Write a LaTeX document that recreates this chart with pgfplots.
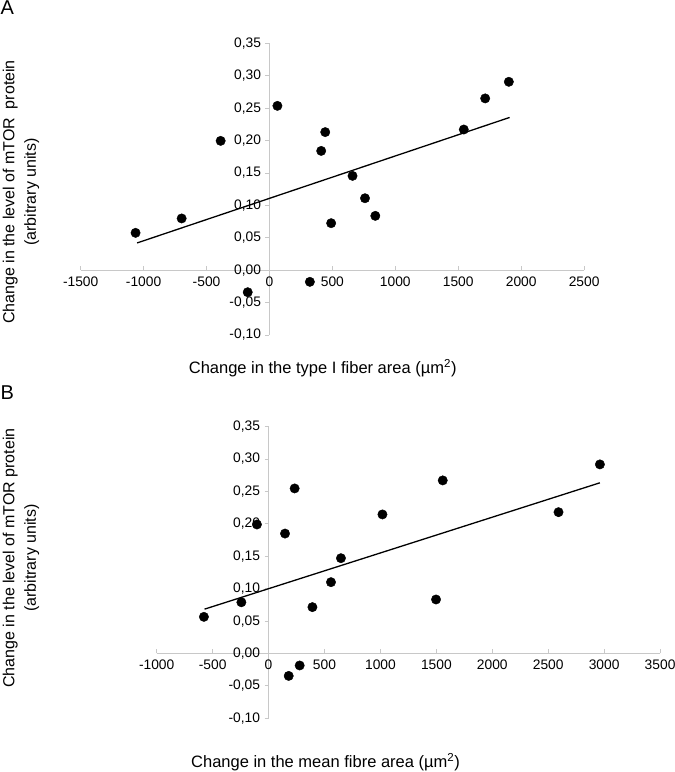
\documentclass[border=0pt]{standalone}
\usepackage{pgfplots}
\pgfplotsset{compat=1.18}
\usepackage{fontspec}
\setmainfont{Liberation Sans}
\definecolor{axgray}{RGB}{200,200,200}
\pgfplotstableread{
x y
-1064 0.0576
-698 0.0798
-388 0.1995
63 0.2535
443 0.213
411 0.184
490 0.0725
321 -0.018
-173 -0.034
660 0.1455
759 0.111
841 0.0838
1544 0.217
1714 0.265
1902 0.2906
}\dataA
\pgfplotstableread{
x y
-578 0.0565
-243 0.079
-104 0.199
233 0.2546
147 0.185
392 0.0715
558 0.110
180 -0.0346
278 -0.0185
647 0.147
1018 0.2145
1557 0.267
1497 0.0833
2592 0.218
2962 0.2917
}\dataB
\pgfplotsset{
  myaxis/.style={
    scale only axis,
    width=503.4pt, height=291.7pt,
    axis x line=middle, axis y line=middle,
    axis line style={draw=axgray, line width=0.8pt, -},
    enlargelimits=false,
    ymin=-0.10, ymax=0.35,
    ytick={-0.10,-0.05,0,0.05,0.10,0.15,0.20,0.25,0.30,0.35},
    hide obscured x ticks=false, hide obscured y ticks=false,
    major tick length=4pt,
    tick style={draw=axgray, line width=0.8pt},
    xtick align=inside,
    ytick align=outside,
    tick label style={font=\fontsize{13.8}{13.8}\selectfont, text=black},
    xticklabel style={yshift=-3pt},
    yticklabel style={xshift=-1pt},
    /pgf/number format/assume math mode=true,
    x tick label style={/pgf/number format/.cd, fixed, 1000 sep={}, assume math mode=true},
    y tick label style={/pgf/number format/.cd, fixed, fixed zerofill, precision=2, use comma, assume math mode=true},
    clip=false,
  }
}
\begin{document}
\begin{tikzpicture}[x=1pt,y=1pt]
\useasboundingbox (0,0) rectangle (675,772);
% Panel A
\begin{axis}[myaxis, at={(80.7pt,437pt)}, anchor=south west,
  xmin=-1500, xmax=2500, xtick={-1500,-1000,...,2500}]
\addplot[only marks, mark=*, mark size=4.7pt, black] table[x=x,y=y] {\dataA};
\addplot[black, line width=1.3pt, no marks] coordinates {(-1052,0.042) (1908,0.2356)};
\end{axis}
% Panel B
\begin{axis}[myaxis, at={(156.7pt,53.7pt)}, anchor=south west,
  xmin=-1000, xmax=3500, xtick={-1000,-500,...,3500}]
\addplot[only marks, mark=*, mark size=4.7pt, black] table[x=x,y=y] {\dataB};
\addplot[black, line width=1.3pt, no marks] coordinates {(-572,0.0684) (2962,0.2633)};
\end{axis}
\node[anchor=north west, inner sep=0pt, font=\fontsize{20}{20}\selectfont] at (0.5,771) {A};
\node[anchor=north west, inner sep=0pt, font=\fontsize{20}{20}\selectfont] at (0.5,386) {B};
\node[font=\fontsize{16.5}{16.5}\selectfont, inner sep=0pt] at (322.7,404) {Change in the type I fiber area (µm\textsuperscript{2})};
\node[font=\fontsize{16.5}{16.5}\selectfont, inner sep=0pt] at (325.5,10) {Change in the mean fibre area (µm\textsuperscript{2})};
\node[rotate=90, align=center, font=\fontsize{16}{21.5}\selectfont, inner sep=0pt] at (21,580) {Change in the level of mTOR\ \ protein\\(arbitrary units)};
\node[rotate=90, align=center, font=\fontsize{16}{21.5}\selectfont, inner sep=0pt] at (21,214) {Change in the level of mTOR protein\\(arbitrary units)};
\end{tikzpicture}
\end{document}
